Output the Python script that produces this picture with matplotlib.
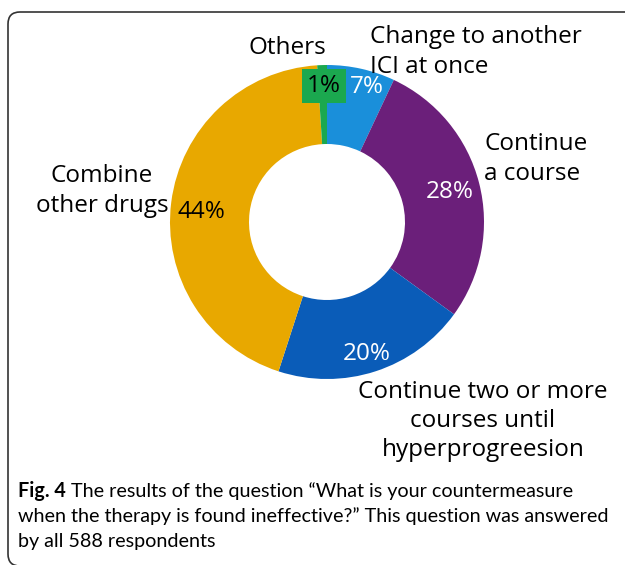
import matplotlib
matplotlib.use("Agg")
import matplotlib.pyplot as plt
from matplotlib.patches import FancyBboxPatch

categories = ["Change to another\nICI at once", "Continue\na course",
              "Continue two or more\ncourses until\nhyperprogreesion",
              "Combine\nother drugs", "Others"]
values = [7, 28, 20, 44, 1]
pct_labels = ["7%", "28%", "20%", "44%", "1%"]
colors = ["#1A8FDA", "#6B1F7A", "#0A5CB8", "#E8A800", "#1BA84F"]

W, H = 625, 565
fig = plt.figure(figsize=(W / 100, H / 100), dpi=100)
ax = fig.add_axes([0, 0, 1, 1])
ax.set_xlim(0, W)
ax.set_ylim(0, H)
ax.set_aspect("equal")
ax.axis("off")

def Y(y):
    return H - y

FONT = "Open Sans"

# frame
frame = FancyBboxPatch((8, Y(566)), 700, 554, boxstyle="round,pad=0,rounding_size=12",
                       fc="white", ec="#333333", lw=1.2, zorder=0)
ax.add_patch(frame)

cx, cy, R = 327, Y(222), 157
wedges, _ = ax.pie(values, colors=colors, startangle=90, counterclock=False,
                   center=(cx, cy), radius=R,
                   wedgeprops=dict(width=79, linewidth=0), frame=True)
ax.set_xlim(0, W)
ax.set_ylim(0, H)
ax.axis("off")

fs = 17.5
ls = 1.28
# percentage labels
ax.text(367, Y(87), pct_labels[0], color="white", fontsize=fs, family=FONT, ha="center", va="center")
ax.text(450, Y(192), pct_labels[1], color="white", fontsize=fs, family=FONT, ha="center", va="center")
ax.text(367, Y(354), pct_labels[2], color="white", fontsize=fs, family=FONT, ha="center", va="center")
ax.text(201, Y(212), pct_labels[3], color="black", fontsize=fs, family=FONT, ha="center", va="center")
ax.text(324, Y(86), pct_labels[4], color="black", fontsize=fs, family=FONT, ha="center", va="center",
        bbox=dict(boxstyle="square,pad=0.22", fc=colors[4], ec="none"))

# category labels
ax.text(287, Y(48), categories[4], fontsize=fs, family=FONT, ha="center", va="center")
ax.text(370, Y(52), categories[0], fontsize=fs, family=FONT, ha="left", va="center", linespacing=ls)
ax.text(484, Y(159), categories[1], fontsize=fs, family=FONT, ha="left", va="center", linespacing=ls)
ax.text(483, Y(421), categories[2], fontsize=fs, family=FONT, ha="center", va="center", linespacing=ls)
ax.text(102, Y(191), categories[3], fontsize=fs, family=FONT, ha="center", va="center", linespacing=ls)

# caption
cfs = 14.2
CF = "Lato"
t1 = ax.text(18, Y(491), "Fig. 4", fontsize=cfs, family=CF, fontweight="bold", ha="left", va="center")
fig.canvas.draw()
bb = t1.get_window_extent()
x2 = bb.x1 + 5
ax.text(x2, Y(491), "The results of the question \u201cWhat is your countermeasure",
        fontsize=cfs, family=CF, ha="left", va="center")
ax.text(18, Y(516), "when the therapy is found ineffective?\u201d This question was answered",
        fontsize=cfs, family=CF, ha="left", va="center")
ax.text(18, Y(541), "by all 588 respondents", fontsize=cfs, family=CF, ha="left", va="center")

fig.savefig("out.png", dpi=100)
